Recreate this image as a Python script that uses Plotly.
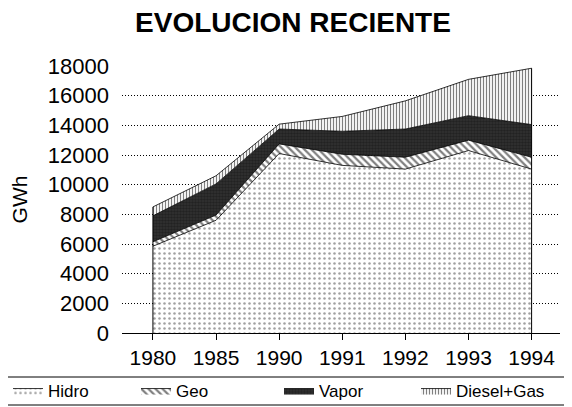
import plotly.graph_objects as go

years = ['1980', '1985', '1990', '1991', '1992', '1993', '1994']
hidro = [5850, 7600, 12100, 11300, 11050, 12300, 11050]
geo = [300, 350, 650, 750, 800, 700, 800]
vapor = [1750, 2100, 1000, 1550, 1900, 1650, 2200]
diesel_gas = [600, 550, 330, 1000, 1900, 2450, 3800]

y_labels = [0, 2000, 4000, 6000, 8000, 10000, 12000, 14000, 16000, 18000]
grid_vals = [2000, 4000, 6000, 8000, 10000, 12000, 14000, 16000]

font = 'Liberation Sans, Arial, sans-serif'
W, H = 564, 399  # page body adds an 8px margin

series = [
    ('Hidro', hidro, dict(shape='.', fgcolor='#444', bgcolor='white', size=5, solidity=0.2)),
    ('Geo', geo, dict(shape='\\', fgcolor='black', bgcolor='white', size=5, solidity=0.45)),
    ('Vapor', vapor, dict(shape='.', fgcolor='#111', bgcolor='#333', size=3, solidity=0.6)),
    ('Diesel+Gas', diesel_gas, dict(shape='|', fgcolor='black', bgcolor='white', size=3, solidity=0.4)),
]
legend_names = ['legend', 'legend2', 'legend3', 'legend4']
legend_x = [-14, 128, 271, 408]

fig = go.Figure()
for (name, vals, pat), lg in zip(series, legend_names):
    fig.add_trace(go.Scatter(
        x=years, y=vals, name=name, stackgroup='one', mode='lines',
        line=dict(color='black', width=0.8),
        fillcolor='white', fillpattern=pat, legend=lg,
    ))

# vertical edges of the stacked area
totals = [a + b + c + d for a, b, c, d in zip(hidro, geo, vapor, diesel_gas)]
for i in (0, len(years) - 1):
    fig.add_trace(go.Scatter(x=[years[i], years[i]], y=[0, totals[i]], mode='lines',
                             line=dict(color='black', width=1), showlegend=False,
                             hoverinfo='skip'))

# dotted grid lines (no line at the top label)
fig.add_trace(go.Scatter(x=[years[0]], y=[0], yaxis='y2', mode='markers',
                         marker=dict(opacity=0), showlegend=False, hoverinfo='skip'))

legends = {}
for lg, lx in zip(legend_names, legend_x):
    legends[lg] = dict(orientation='h', x=lx / W, xref='container', y=1 - 383 / H,
                       yref='container', yanchor='middle', xanchor='left',
                       font=dict(size=17), bgcolor='rgba(0,0,0,0)', itemwidth=30)

fig.update_layout(
    width=W, height=H,
    margin=dict(l=114, r=12, t=58, b=74, autoexpand=False),
    paper_bgcolor='white', plot_bgcolor='white',
    font=dict(family=font, size=17, color='black'),
    title=dict(text='<b>EVOLUCION RECIENTE</b>', x=285 / W, xref='container', xanchor='center',
               y=1 - 14 / H, yref='container', yanchor='middle', font=dict(size=28)),
    xaxis=dict(type='category', range=[-0.49, 6.45], showgrid=False,
               showline=True, linecolor='black', linewidth=1,
               ticks='outside', ticklen=6, tickcolor='black',
               tickfont=dict(size=21)),
    yaxis=dict(range=[0, 18000], tickvals=y_labels, tickformat='d', showgrid=False,
               zeroline=False, showline=False,
               ticks='', ticklabelstandoff=12, tickfont=dict(size=22),
               title=dict(text='GWh', standoff=16, font=dict(size=21))),
    yaxis2=dict(range=[0, 18000], overlaying='y', tickvals=grid_vals, showticklabels=False,
                showgrid=True, gridcolor='black', griddash='1px,2px', gridwidth=1,
                zeroline=False, showline=False, ticks=''),
    shapes=[dict(type='rect', xref='paper', yref='paper', x0=-117 / 438, x1=445 / 438,
                 y0=-72 / 267, y1=-44 / 267, line=dict(color='black', width=1))],
    showlegend=True,
    **legends,
)

fig.write_html('out.html')
